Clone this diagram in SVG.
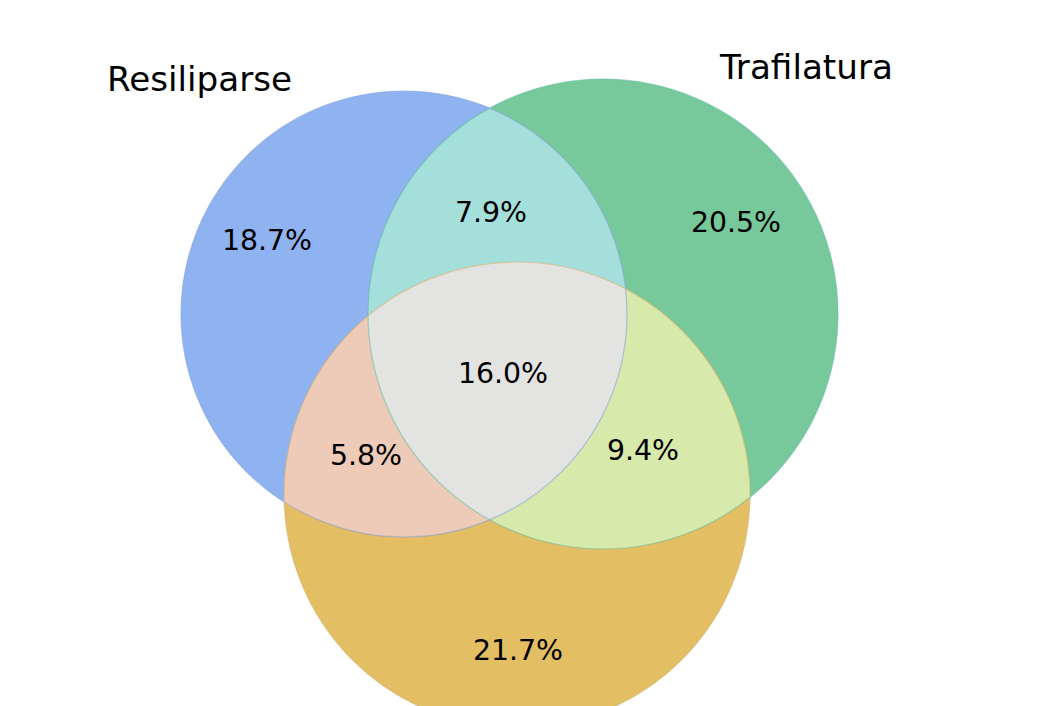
<svg xmlns="http://www.w3.org/2000/svg" width="1040" height="706" viewBox="0 0 1040 706">
<style>
text{font-family:"DejaVu Sans","Liberation Sans",sans-serif;fill:#000}
.num{font-size:28.4px;text-anchor:middle}
.lab{font-size:34.2px}
.edge{fill:none;stroke-width:1.2;stroke-opacity:0.55}
</style>
<defs>
<clipPath id="cA"><circle cx="404" cy="314" r="223"/></clipPath>
<clipPath id="cB"><circle cx="603" cy="314" r="235"/></clipPath>
<clipPath id="cC"><circle cx="517" cy="495" r="233"/></clipPath>
</defs>
<rect width="1040" height="706" fill="#fff"/>
<g id="set-resiliparse">
<circle cx="404" cy="314" r="223" fill="#8fb3f0"/>
</g>
<g id="set-trafilatura">
<circle cx="603" cy="314" r="235" fill="#77c99c"/>
</g>
<g id="set-third">
<circle cx="517" cy="495" r="233" fill="#e4be62"/>
</g>
<g id="overlaps">
<circle cx="603" cy="314" r="235" fill="#a5dfdb" clip-path="url(#cA)"/>
<circle cx="517" cy="495" r="233" fill="#eecbb9" clip-path="url(#cA)"/>
<circle cx="517" cy="495" r="233" fill="#d7e9ab" clip-path="url(#cB)"/>
<g clip-path="url(#cB)"><circle cx="517" cy="495" r="233" fill="#e3e3e1" clip-path="url(#cA)"/></g>
</g>
<g id="edges">
<circle class="edge" cx="404" cy="314" r="223" stroke="#7f9fd8"/>
<circle class="edge" cx="603" cy="314" r="235" stroke="#5fb8a0"/>
<circle class="edge" cx="517" cy="495" r="233" stroke="#d4b070"/>
</g>
<g id="labels">
<text class="lab" x="107" y="91">Resiliparse</text>
<text class="lab" x="720" y="79">Trafilatura</text>
<text class="num" x="267" y="250">18.7%</text>
<text class="num" x="491" y="222">7.9%</text>
<text class="num" x="736" y="232">20.5%</text>
<text class="num" x="503" y="383">16.0%</text>
<text class="num" x="366" y="465">5.8%</text>
<text class="num" x="643" y="460">9.4%</text>
<text class="num" x="518" y="660">21.7%</text>
</g>
</svg>
